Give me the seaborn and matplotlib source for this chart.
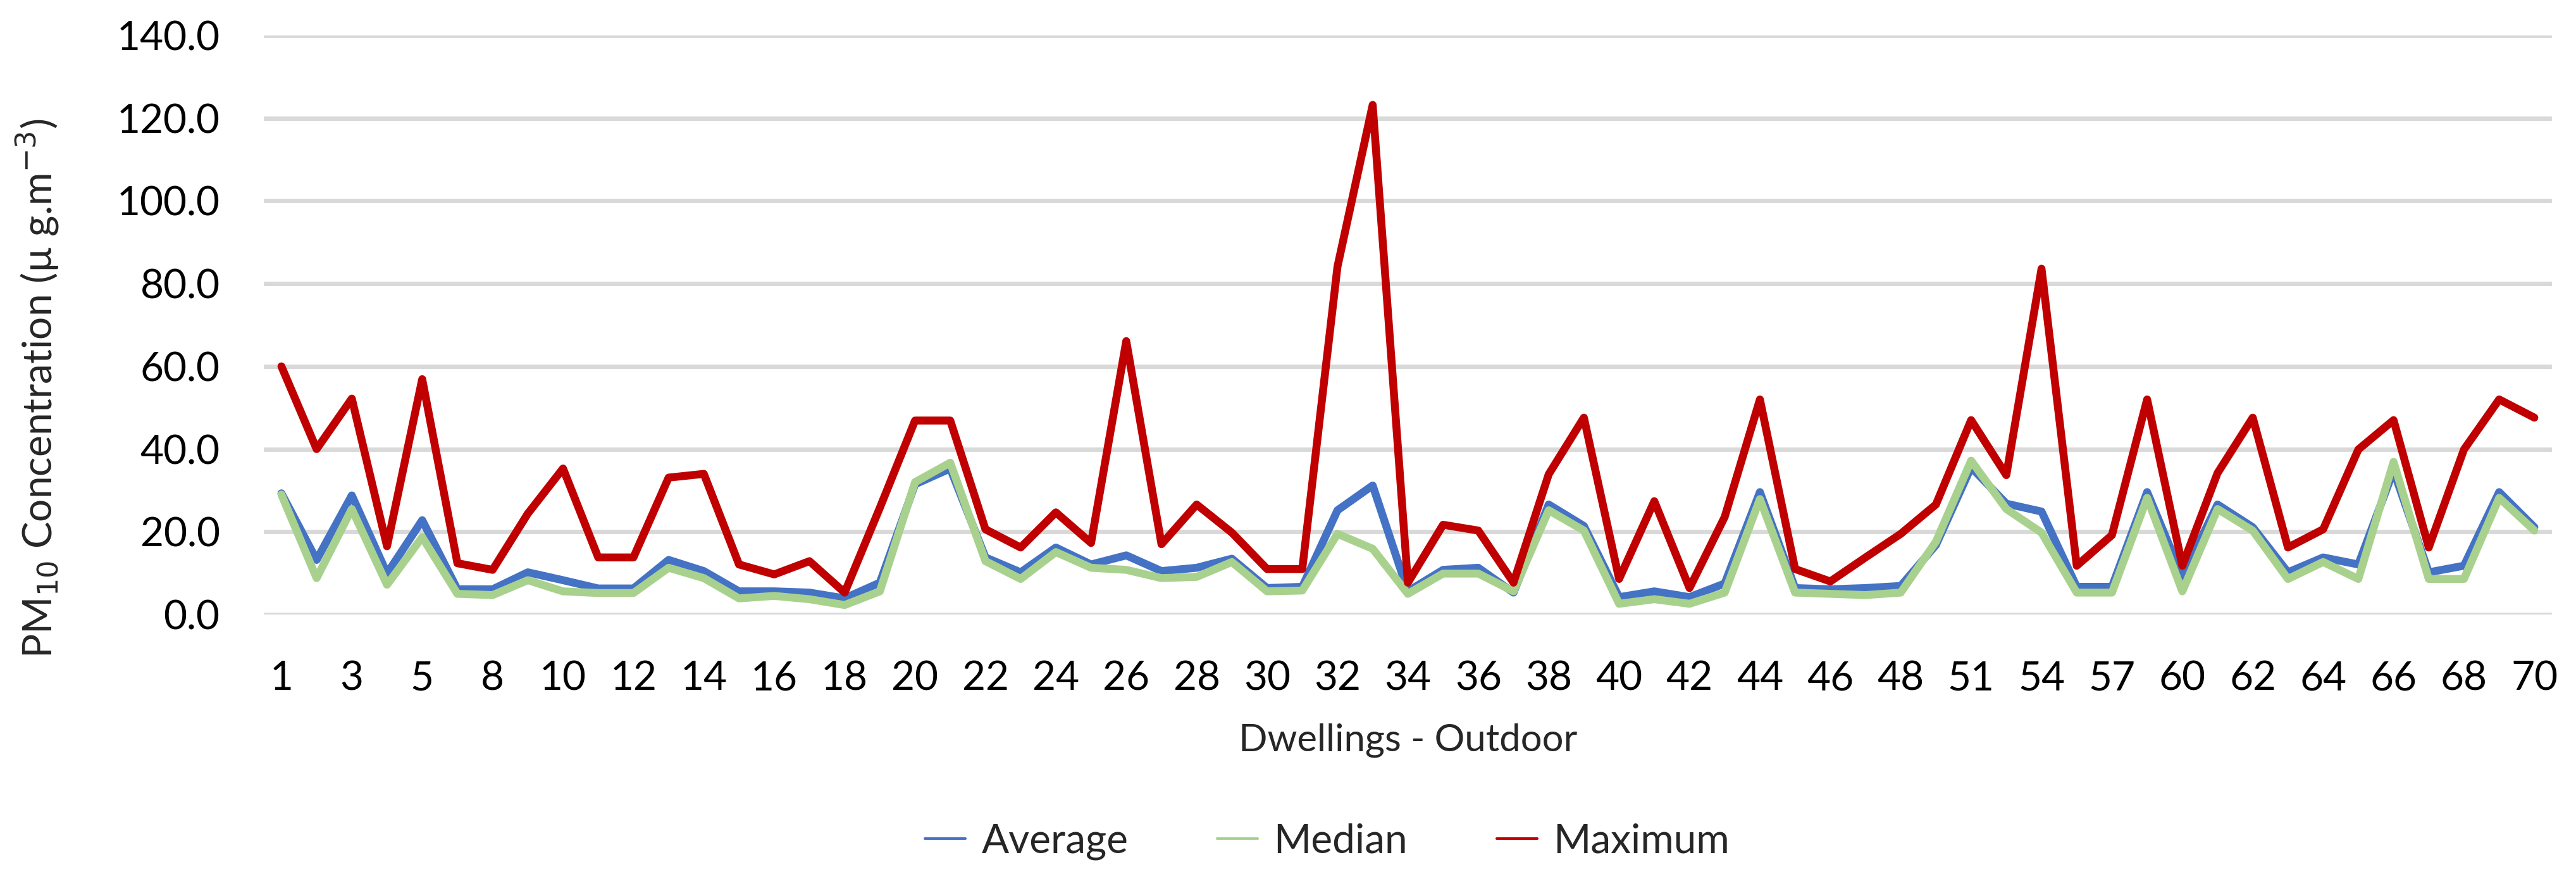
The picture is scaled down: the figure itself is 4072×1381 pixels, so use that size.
import numpy as np
import pandas as pd
import matplotlib
matplotlib.use("Agg")
import matplotlib.pyplot as plt
import seaborn as sns
from matplotlib.ticker import FormatStrFormatter

dwellings = [1, 2, 3, 4, 5, 6, 8, 9, 10, 11, 12, 13, 14, 15, 16, 17, 18, 19, 20, 21,
             22, 23, 24, 25, 26, 27, 28, 29, 30, 31, 32, 33, 34, 35, 36, 37, 38, 39, 40, 41,
             42, 43, 44, 45, 46, 47, 48, 49, 51, 52, 54, 55, 57, 58, 60, 61, 62, 63, 64, 65,
             66, 67, 68, 69, 70]

average = [29.3, 13.2, 28.8, 9.9, 22.8, 6.1, 6.1, 10.2, 8.3, 6.3, 6.3,
           13.2, 10.5, 5.6, 5.6, 5.3, 3.9, 7.7, 31.5, 35.3, 13.8, 10.2,
           16.2, 12.1, 14.3, 10.5, 11.3, 13.5, 6.4, 6.7, 25.2, 31.2, 5.6,
           10.8, 11.3, 5.3, 26.6, 21.4, 4.2, 5.6, 4.2, 7.5, 29.6, 6.4,
           6.1, 6.4, 6.9, 16.8, 35.6, 26.8, 24.9, 6.7, 6.7, 29.6, 9.1,
           26.6, 21.1, 10.2, 13.8, 12.1, 34.8, 10.2, 11.8, 29.6, 21.1]

median = [29.0, 8.8, 25.5, 7.2, 18.7, 5.0, 4.7, 8.3, 5.6, 5.2, 5.2,
          11.3, 8.8, 3.9, 4.5, 3.7, 2.3, 5.6, 32.0, 36.7, 12.9, 8.6,
          15.1, 11.3, 10.8, 8.8, 9.1, 12.7, 5.6, 5.8, 19.5, 15.9, 5.0,
          9.9, 9.9, 5.6, 25.2, 20.3, 2.6, 3.7, 2.6, 5.3, 27.9, 5.3,
          5.0, 4.7, 5.3, 17.6, 37.2, 25.5, 19.8, 5.3, 5.3, 28.2, 5.6,
          25.5, 20.3, 8.6, 12.7, 8.6, 36.9, 8.6, 8.6, 28.2, 20.3]

maximum = [60.0, 40.0, 52.2, 16.5, 56.9, 12.4, 10.8, 24.4, 35.3, 13.8, 13.8,
           33.1, 34.0, 12.1, 9.7, 12.9, 5.3, 25.8, 46.9, 46.9, 20.6, 16.2,
           24.7, 17.3, 66.1, 17.0, 26.6, 19.8, 11.0, 11.0, 84.1, 123.2, 7.7,
           21.7, 20.3, 7.7, 33.9, 47.6, 8.6, 27.4, 6.4, 23.6, 52.0, 11.0,
           8.0, 13.8, 19.5, 26.6, 47.0, 33.7, 83.6, 11.8, 19.2, 52.0, 11.8,
           34.2, 47.6, 16.2, 20.6, 39.9, 47.0, 16.2, 39.9, 52.0, 47.6]

series_names = ["Average", "Median", "Maximum"]
series_colors = ["#4472C4", "#A9D18E", "#C00000"]

sns.set_theme(style="white")
plt.rcParams["font.family"] = ["Lato", "DejaVu Sans"]

pos = np.arange(len(dwellings))
df = pd.DataFrame({"pos": pos, "Average": average, "Median": median, "Maximum": maximum})

fig = plt.figure(figsize=(40.72, 13.81), dpi=100)
ax = fig.add_axes([417 / 4072, 1 - 971 / 1381, (4034 - 417) / 4072, (971 - 56) / 1381])

for name, col in zip(series_names, series_colors):
    sns.lineplot(data=df, x="pos", y=name, ax=ax, color=col, linewidth=9,
                 label=name, sort=False, solid_joinstyle="round", solid_capstyle="round",
                 zorder=3)

ax.set_xlim(-0.5, len(dwellings) - 0.5)
ax.set_ylim(0, 140)
ax.set_yticks(np.arange(0, 141, 20))
ax.yaxis.set_major_formatter(FormatStrFormatter("%.1f"))
ax.set_xticks(pos[::2])
ax.set_xticklabels([str(d) for d in dwellings[::2]])
ax.grid(axis="y", color="#D9D9D9", linewidth=5, zorder=0)
ax.grid(axis="x", visible=False)
for s in ax.spines.values():
    s.set_visible(False)
ax.tick_params(axis="both", length=0, labelsize=46, colors="black")
ax.tick_params(axis="y", pad=50)
ax.tick_params(axis="x", pad=52)

ax.set_xlabel("Dwellings - Outdoor", fontsize=43, labelpad=30)
ax.set_ylabel(r"PM$_{10}$ Concentration (µ g.m$^{-3}$)", fontsize=46, va="center")
ax.yaxis.set_label_coords(-0.099, 0.39)

leg = ax.legend(loc="center", bbox_to_anchor=(2098 / 4072, 1 - 1330 / 1381),
                bbox_transform=fig.transFigure, ncol=3, frameon=False, fontsize=46,
                handlelength=1.0, columnspacing=2.2, handletextpad=0.4)
for line in leg.get_lines():
    line.set_linewidth(3)

fig.savefig("out.png", dpi=100)
